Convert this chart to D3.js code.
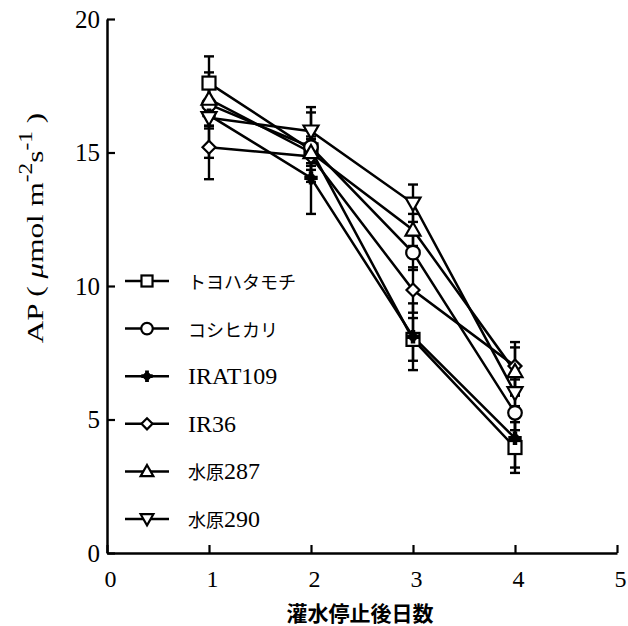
<!DOCTYPE html>
<html><head><meta charset="utf-8">
<script src="https://cdn.jsdelivr.net/npm/d3@7"></script>
<style>
body{margin:0;background:#fff;}
svg{display:block;}
</style></head>
<body>
<svg id="chart" width="628" height="626"></svg>
<script>
const days = [1, 2, 3, 4];
const seriesNames = ["トヨハタモチ", "コシヒカリ", "IRAT109", "IR36", "水原287", "水原290"];
const toyohata    = [17.6, 15.1, 8.0, 3.95];
const koshihikari = [16.8, 15.2, 11.25, 5.25];
const irat109     = [16.4, 14.05, 8.1, 4.3];
const ir36        = [15.2, 14.85, 9.85, 7.0];
const suigen287   = [17.0, 15.0, 12.1, 6.8];
const suigen290   = [16.3, 15.8, 13.1, 6.0];
const toyohataSD    = [1.0, 0.5, 0.8, 0.95];
const koshihikariSD = [0.8, 1.3, 0.65, 0.65];
const irat109SD     = [0.5, 1.35, 1.25, 1.1];
const ir36SD        = [1.2, 0.5, 0.85, 0.9];
const suigen287SD   = [1.0, 0.5, 0.6, 0.9];
const suigen290SD   = [1.5, 0.9, 0.7, 0.5];
const xTicks = [0, 1, 2, 3, 4, 5];
const yTicks = [0, 5, 10, 15, 20];

const values = [toyohata, koshihikari, irat109, ir36, suigen287, suigen290];
const sds = [toyohataSD, koshihikariSD, irat109SD, ir36SD, suigen287SD, suigen290SD];
const shapes = ["square", "circle", "cross", "diamond", "triUp", "triDown"];

const series = seriesNames.map((n, i) => ({
  name: n, shape: shapes[i],
  pts: days.map((d, j) => ({x: d, y: values[i][j], e: sds[i][j]}))
}));

const svg = d3.select("#chart");
const x = d3.scaleLinear().domain([0, 5]).range([107, 617]);
const y = d3.scaleLinear().domain([0, 20]).range([553, 19]);

const serif = "'Liberation Serif','DejaVu Serif',serif";
const jp = "'Noto Sans CJK JP','Noto Sans',sans-serif";

// axes
const ax = svg.append("g").attr("transform", `translate(0,${y(0)})`)
  .call(d3.axisBottom(x).tickValues(xTicks).tickSize(-8).tickSizeOuter(0).tickPadding(17).tickFormat(d3.format("d")));
ax.selectAll("text").attr("font-family", serif).attr("font-size", 24).attr("fill", "#000").attr("dx", 3);
ax.selectAll("line").attr("stroke-width", 2.2);
ax.select(".domain").attr("stroke-width", 2.5);

const ay = svg.append("g").attr("transform", `translate(${x(0)},0)`)
  .call(d3.axisLeft(y).tickValues(yTicks).tickSize(-8).tickSizeOuter(0).tickPadding(7));
ay.selectAll("text").attr("font-family", serif).attr("font-size", 25).attr("fill", "#000");
ay.selectAll("line").attr("stroke-width", 2.2);
ay.select(".domain").attr("stroke-width", 2.5);

// axis titles
svg.append("text").attr("x", 360).attr("y", 621).attr("text-anchor", "middle")
  .attr("font-family", jp).attr("font-weight", "bold").attr("font-size", 21).text("灌水停止後日数");

const yl = svg.append("text").attr("transform", "translate(43,228) rotate(-90) scale(1.3,1)")
  .attr("text-anchor", "middle").attr("font-family", serif).attr("font-size", 24);
yl.append("tspan").text("AP ( ");
yl.append("tspan").attr("font-style", "italic").text("μ");
yl.append("tspan").text("mol m");
yl.append("tspan").attr("dy", -11).attr("font-size", 18).text("-2");
yl.append("tspan").attr("dy", 11).text("s");
yl.append("tspan").attr("dy", -11).attr("font-size", 18).text("-1");
yl.append("tspan").attr("dy", 11).text(" )");

// marker drawing
function marker(g, shape, cx, cy, scale) {
  const s = scale || 1;
  if (shape === "square") {
    g.append("rect").attr("x", cx - 6.5*s).attr("y", cy - 6.5*s).attr("width", 13*s).attr("height", 13*s)
      .attr("fill", "#fff").attr("stroke", "#000").attr("stroke-width", 2.2);
  } else if (shape === "circle") {
    g.append("circle").attr("cx", cx).attr("cy", cy).attr("r", 6.8*s)
      .attr("fill", "#fff").attr("stroke", "#000").attr("stroke-width", 2.2);
  } else if (shape === "cross") {
    g.append("path").attr("d", d3.symbol(d3.symbolCross, 100*s*s)())
      .attr("transform", `translate(${cx},${cy})`).attr("fill", "#000");
    g.append("circle").attr("cx", cx).attr("cy", cy).attr("r", 4.5*s).attr("fill", "#000");
  } else if (shape === "diamond") {
    const r = 6.5*s;
    g.append("path").attr("d", `M${cx},${cy-r}L${cx+r},${cy}L${cx},${cy+r}L${cx-r},${cy}Z`)
      .attr("fill", "#fff").attr("stroke", "#000").attr("stroke-width", 2.2);
  } else if (shape === "triUp") {
    const r = 7.5*s;
    g.append("path").attr("d", `M${cx},${cy-r}L${cx+r},${cy+r*0.75}L${cx-r},${cy+r*0.75}Z`)
      .attr("fill", "#fff").attr("stroke", "#000").attr("stroke-width", 2.2);
  } else if (shape === "triDown") {
    const r = 7.5*s;
    g.append("path").attr("d", `M${cx},${cy+r}L${cx+r},${cy-r*0.75}L${cx-r},${cy-r*0.75}Z`)
      .attr("fill", "#fff").attr("stroke", "#000").attr("stroke-width", 2.2);
  }
}

const line = d3.line().x(d => x(d.x)).y(d => y(d.y));
const plot = svg.append("g");

// error bars
series.forEach(s => {
  s.pts.forEach(p => {
    const g = plot.append("g").attr("stroke", "#000").attr("stroke-width", 2.4);
    g.append("line").attr("x1", x(p.x)).attr("x2", x(p.x)).attr("y1", y(p.y + p.e)).attr("y2", y(p.y - p.e));
    [p.y + p.e, p.y - p.e].forEach(v => {
      g.append("line").attr("x1", x(p.x) - 5).attr("x2", x(p.x) + 5).attr("y1", y(v)).attr("y2", y(v));
    });
  });
});

// lines
series.forEach(s => {
  plot.append("path").datum(s.pts).attr("d", line)
    .attr("fill", "none").attr("stroke", "#000").attr("stroke-width", 2.5);
});

// markers
series.forEach(s => {
  const g = plot.append("g");
  s.pts.forEach(p => marker(g, s.shape, x(p.x), y(p.y)));
});

// legend
const leg = svg.append("g");
series.forEach((s, i) => {
  const ly = 281 + i * 47.6;
  leg.append("line").attr("x1", 125).attr("x2", 169).attr("y1", ly).attr("y2", ly)
    .attr("stroke", "#000").attr("stroke-width", 2.5);
  marker(leg, s.shape, 147, ly, 0.85);
  const isLatin = /^[A-Z0-9]+$/.test(s.name);
  const t = leg.append("text").attr("x", 188).attr("y", ly + 8).attr("font-size", isLatin ? 24 : 18);
  if (isLatin) {
    t.attr("font-family", serif).text(s.name);
  } else if (/\d/.test(s.name)) {
    t.append("tspan").attr("font-family", jp).text(s.name.replace(/\d+/, ""));
    t.append("tspan").attr("font-family", serif).attr("font-size", 24).text(s.name.match(/\d+/)[0]);
  } else {
    t.attr("font-family", jp).text(s.name);
  }
});
</script>
</body></html>
